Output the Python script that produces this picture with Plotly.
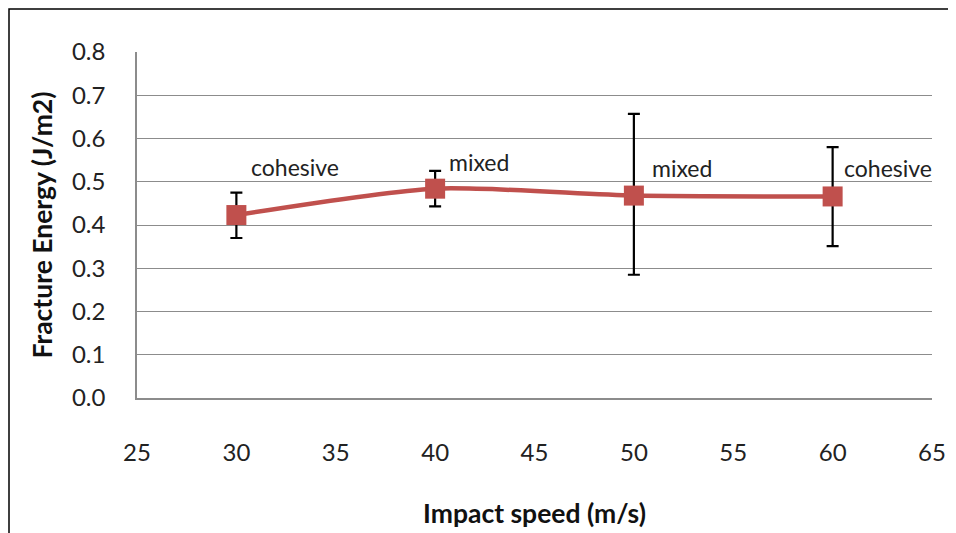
import plotly.graph_objects as go

speed = [30, 40, 50, 60]
energy = [0.423, 0.484, 0.468, 0.466]
err_plus = [0.052, 0.041, 0.189, 0.114]
err_minus = [0.053, 0.041, 0.183, 0.115]
labels = ["cohesive", "mixed", "mixed", "cohesive"]
x_ticks = [25, 30, 35, 40, 45, 50, 55, 60, 65]
y_ticks = [0.0, 0.1, 0.2, 0.3, 0.4, 0.5, 0.6, 0.7, 0.8]

# label offsets in pixels (style only)
label_dx = [13, 12, 16, 9]
label_dy = [48, 27, 28, 28]

FONT = "Lato, 'Open Sans', sans-serif"
RED = "#C0504D"
TXT = "#222222"

# page body has ~8px margin; figure coordinates are offset by 8px
W, H = 948, 525
L, R, T, B = 129, 24, 44, 135
pw, ph = W - L - R, H - T - B

fig = go.Figure()
fig.add_trace(go.Scatter(
    x=speed, y=energy, mode="lines+markers",
    line=dict(color=RED, width=4.5, shape="spline", smoothing=0.7),
    marker=dict(symbol="square", size=20, color=RED),
    error_y=dict(type="data", symmetric=False, array=err_plus, arrayminus=err_minus,
                 color="black", thickness=2.2, width=6),
    showlegend=False,
))

for xv, yv, t, dx, dy in zip(speed, energy, labels, label_dx, label_dy):
    fig.add_annotation(x=xv, y=yv, text=t, showarrow=False, xanchor="left", yanchor="middle",
                       xshift=dx, yshift=dy, font=dict(family=FONT, size=23, color=TXT))

# outer border of the chart
fig.add_shape(type="rect", xref="paper", yref="paper",
              x0=(1 - L) / pw, x1=(947 - L) / pw,
              y0=-(B + 10) / ph, y1=(ph + T - 1) / ph,
              line=dict(color="black", width=1.5), fillcolor="rgba(0,0,0,0)", layer="below")

fig.update_layout(
    width=W, height=H,
    margin=dict(l=L, r=R, t=T, b=B, autoexpand=False),
    paper_bgcolor="white", plot_bgcolor="white",
    font=dict(family=FONT, size=24, color=TXT),
    xaxis=dict(range=[25, 65], tickvals=x_ticks, ticktext=[str(v) for v in x_ticks],
               showgrid=False, showline=True, linecolor="#8c8c8c", linewidth=1.5,
               ticks="", ticklabelstandoff=32, zeroline=False, automargin=False,
               tickfont=dict(family=FONT, size=24, color=TXT),
               title=dict(text="<b>Impact speed (m/s)</b>", standoff=40,
                          font=dict(family=FONT, size=26.5, color="#111"))),
    yaxis=dict(range=[0, 0.8], tickvals=y_ticks, ticktext=[f"{v:.1f}" for v in y_ticks],
               showgrid=True, gridcolor="#8c8c8c", gridwidth=1.2,
               showline=True, linecolor="#8c8c8c", linewidth=1.5,
               ticks="", ticklabelstandoff=25, zeroline=False, automargin=False,
               tickfont=dict(family=FONT, size=24, color=TXT),
               title=dict(text="<b>Fracture Energy (J/m2)</b>", standoff=12,
                          font=dict(family=FONT, size=26.5, color="#111"))),
)

fig.write_html("out.html")
